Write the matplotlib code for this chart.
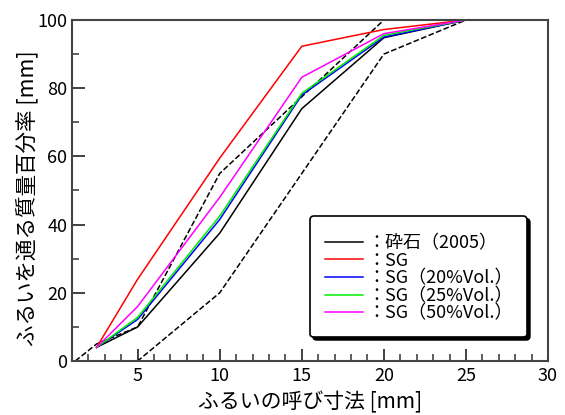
import numpy as np
import matplotlib
matplotlib.use('Agg')
from matplotlib import pyplot as plt
from matplotlib.ticker import MultipleLocator

plt.rcParams['font.family'] = ['Noto Sans CJK JP', 'DejaVu Sans']

# ふるい寸法
sieve = [2.5, 5, 10, 15, 20, 25]

# 各試料の通過百分率
saiseki = [4, 10, 37.5, 74, 94.8, 100]
sg = [4, 24, 59.5, 92.3, 97.2, 100]
sg20 = [4, 12.2, 41.5, 78, 95, 100]
sg25 = [4, 12.8, 42.5, 78.5, 95.5, 100]
sg50 = [4, 16, 48, 83.2, 96, 100]

# 規格範囲（上限・下限）
upper_x = [1.2, 2.5, 5, 10, 20, 25]
upper_y = [0, 5, 10, 55, 100, 100]
lower_x = [2.5, 5, 10, 20, 25]
lower_y = [0, 0, 20, 90, 100]

labels = ['：砕石（2005）', '：SG', '：SG（20%Vol.）', '：SG（25%Vol.）', '：SG（50%Vol.）']
colors = ['black', 'red', 'blue', '#00ee00', 'magenta']

fig = plt.figure(figsize=(5.65, 4.15), dpi=100)
ax = fig.add_axes([72 / 565, 1 - 361 / 415, 476 / 565, 341 / 415])

ax.plot(upper_x, upper_y, 'k--', lw=1.1)
ax.plot(lower_x, lower_y, 'k--', lw=1.1)

series = [saiseki, sg, sg20, sg25, sg50]
for s, c, lab in zip(series, colors, labels):
    ax.plot(sieve, s, color=c, lw=1.1, label=lab)

ax.set_xlim(1, 30)
ax.set_ylim(0, 100)
ax.set_xticks([5, 10, 15, 20, 25, 30])
ax.xaxis.set_minor_locator(MultipleLocator(1))
ax.yaxis.set_major_locator(MultipleLocator(20))
ax.yaxis.set_minor_locator(MultipleLocator(10))
ax.tick_params(which='both', direction='in', top=False, right=False, labelsize=13,
               color='#333333', labelcolor='black')
ax.tick_params(which='major', length=9, width=1.3)
ax.tick_params(which='minor', length=5, width=1.1)
ax.tick_params(axis='x', pad=4)
for sp in ax.spines.values():
    sp.set_linewidth(1.5)
    sp.set_color('#444444')

ax.set_xlabel('ふるいの呼び寸法 [mm]', fontsize=15, va='center')
ax.xaxis.set_label_coords(0.5, -0.12)
ax.set_ylabel('ふるいを通る質量百分率 [mm]', fontsize=15.5, va='center')
ax.yaxis.set_label_coords(-0.094, 0.478)

leg = ax.legend(loc='lower right', bbox_to_anchor=(0.956, 0.07), borderaxespad=0,
                fontsize=13, title=' ', title_fontsize=3,
                fancybox=True, shadow={'color': 'black', 'alpha': 1},
                framealpha=1, edgecolor='black', handlelength=2.1, handletextpad=0.25,
                labelspacing=-0.02, borderpad=0.8)
leg.get_frame().set_linewidth(1.2)

fig.savefig('out.png', dpi=100)
